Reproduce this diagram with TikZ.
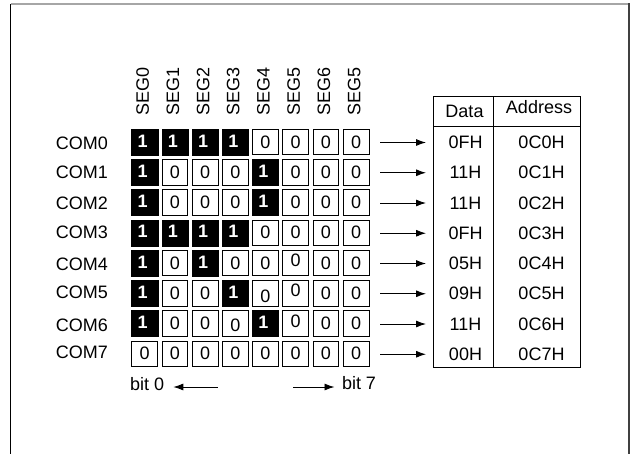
\documentclass[tikz,border=0pt]{standalone}
\usepackage{fontspec}
\setmainfont{Liberation Sans}
\usetikzlibrary{arrows.meta}
\begin{document}
\begin{tikzpicture}[x=1pt,y=-1pt,
  txt/.style={font=\fontsize{18}{20}\selectfont, inner sep=0pt},
  oncell/.style={fill=black, draw=black, line width=0.5pt, minimum width=26.1pt, minimum height=26pt, inner sep=0pt},
  offcell/.style={draw=black, line width=0.9pt, minimum width=25.7pt, minimum height=25.6pt, inner sep=0pt},
  onlabel/.style={txt, text=white, font=\fontsize{18}{20}\selectfont\bfseries},
  tline/.style={line width=0.9pt},
  arr/.style={-{Latex[length=10pt,width=7pt]}, line width=0.9pt}]
\useasboundingbox (0,0) rectangle (632,453);
% frame
\draw[gray!70, line width=1.2pt] (10.5,4) -- (629,4);
\draw[black, line width=1.2pt] (10.5,4) -- (10.5,460);
\draw[black!75, line width=2pt] (629,3.4) -- (629,460);
% SEG labels
\foreach \s [count=\c from 0] in {SEG0,SEG1,SEG2,SEG3,SEG4,SEG5,SEG6,SEG5} {
  \pgfmathsetmacro\cx{142.7+30.2*\c}
  \node[txt, rotate=90, anchor=west] (seg-\c) at (\cx,116) {\s};
}
% COM labels
\foreach \yy [count=\r from 0] in {143.3,172.3,203.3,232.3,264,292.3,325,352.7} {
  \node[txt, anchor=west] (com-\r) at (55.6,\yy) {COM\r};
}
% cells
\foreach \bits [count=\r from 0] in {
  {1/0,1/0,1/0,1/0,0/0,0/0,0/0,0/0},
  {1/0,0/0,0/0,0/0,1/0,0/0,0/0,0/0},
  {1/0,0/0,0/0,0/0,1/0,0/0,0/0,0/0},
  {1/0,1/0,1/0,1/0,0/0,0/0,0/0,0/0},
  {1/0,0/0,1/0,0/0,0/0,0/-3,0/0,0/0},
  {1/0,0/0,0/0,1/0,0/3,0/-3,0/0,0/0},
  {1/0,0/0,0/0,0/2,1/0,0/-2,0/0,0/0},
  {0/0,0/0,0/0,0/0,0/0,0/0,0/0,0/0}} {
  \foreach \b/\dy [count=\c from 0] in \bits {
    \pgfmathsetmacro\cx{144.7+30.2*\c}
    \pgfmathsetmacro\cy{142+30.25*\r}
    \ifnum\b=1
      \node[oncell] (c-\r-\c) at (\cx,\cy) {};
      \node[onlabel] at ([xshift=-2pt,yshift=1pt]c-\r-\c.center) {1};
    \else
      \node[offcell] (c-\r-\c) at (\cx,\cy) {};
      \node[txt] at ([yshift=-\dy pt]c-\r-\c.center) {0};
    \fi
  }
}
% table
\node[draw, tline, minimum width=147.3pt, minimum height=270.7pt, inner sep=0pt, anchor=north west] (tbl) at (433,96) {};
\draw[tline] (493.3,96) -- (493.3,366.7);
\draw[tline] (433,126) -- (580.3,126);
\node[txt] (hdata) at (464.5,111) {Data};
\node[txt] (haddr) at (539,107.5) {Address};
\foreach \d/\a [count=\r from 0] in {0FH/0C0H,11H/0C1H,11H/0C2H,0FH/0C3H,05H/0C4H,09H/0C5H,11H/0C6H,00H/0C7H} {
  \pgfmathsetmacro\cy{142.5+30.25*\r}
  \node[txt] (d-\r) at (465.5,\cy) {\d};
  \node[txt] (a-\r) at (541.5,\cy) {\a};
  \coordinate (as-\r) at (380,\cy);
  \coordinate (ae-\r) at (426,\cy);
  \draw[arr] (as-\r) -- (ae-\r);
}
% bit labels
\node[txt, anchor=west] (bit0) at (130,384.5) {bit 0};
\node[txt, anchor=west] (bit7) at (341.8,383) {bit 7};
\coordinate (b0s) at (217.6,387);
\coordinate (b0e) at (173.3,387);
\coordinate (b7s) at (293,387);
\coordinate (b7e) at (334.5,387);
\draw[arr] (b0s) -- (b0e);
\draw[arr] (b7s) -- (b7e);
\end{tikzpicture}
\end{document}
